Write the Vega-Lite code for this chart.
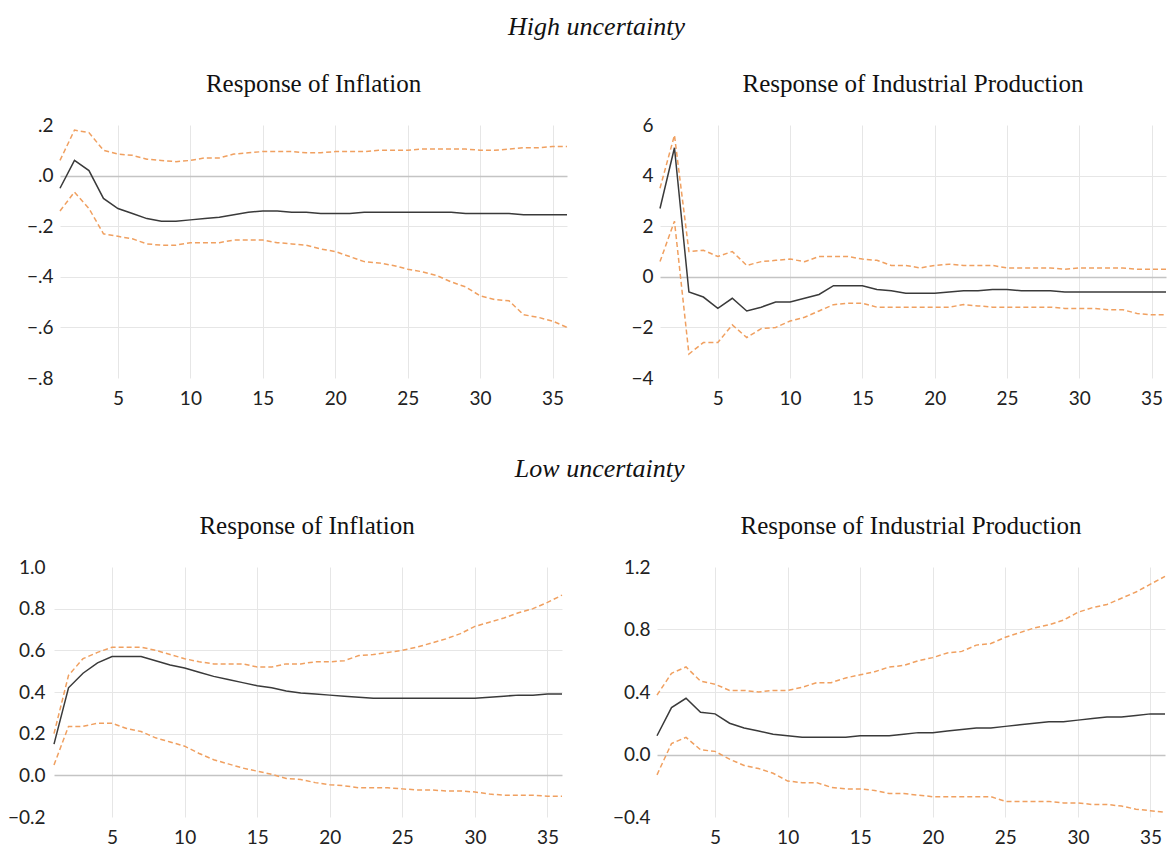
{
  "$schema": "https://vega.github.io/schema/vega-lite/v6.json",
  "background": "white",
  "padding": {"left": 0, "top": 14, "right": 2, "bottom": 4},
  "config": {
    "view": {"stroke": null},
    "axis": {"domain": false, "ticks": false, "labelFont": "Lato", "labelFontSize": 19, "labelColor": "#222", "gridColor": "#e6e6e6", "gridWidth": 1, "title": null, "labelPadding": 7},
    "axisX": {"labelPadding": 11},
    "title": {"font": "Liberation Serif", "fontSize": 25, "fontWeight": "normal", "color": "#111", "offset": 19},
    "concat": {"spacing": 60}
  },
  "datasets": {
    "hiInf": [
      {"t":1,"irf":-0.05,"lo":-0.14,"hi":0.06},{"t":2,"irf":0.06,"lo":-0.065,"hi":0.18},{"t":3,"irf":0.02,"lo":-0.13,"hi":0.17},{"t":4,"irf":-0.09,"lo":-0.23,"hi":0.10},{"t":5,"irf":-0.13,"lo":-0.24,"hi":0.085},{"t":6,"irf":-0.15,"lo":-0.25,"hi":0.08},{"t":7,"irf":-0.17,"lo":-0.27,"hi":0.065},{"t":8,"irf":-0.18,"lo":-0.275,"hi":0.06},{"t":9,"irf":-0.18,"lo":-0.275,"hi":0.055},{"t":10,"irf":-0.175,"lo":-0.265,"hi":0.06},{"t":11,"irf":-0.17,"lo":-0.265,"hi":0.07},{"t":12,"irf":-0.165,"lo":-0.265,"hi":0.07},{"t":13,"irf":-0.155,"lo":-0.255,"hi":0.085},{"t":14,"irf":-0.145,"lo":-0.255,"hi":0.09},{"t":15,"irf":-0.14,"lo":-0.255,"hi":0.095},{"t":16,"irf":-0.14,"lo":-0.265,"hi":0.095},{"t":17,"irf":-0.145,"lo":-0.27,"hi":0.095},{"t":18,"irf":-0.145,"lo":-0.275,"hi":0.09},{"t":19,"irf":-0.15,"lo":-0.29,"hi":0.09},{"t":20,"irf":-0.15,"lo":-0.30,"hi":0.095},{"t":21,"irf":-0.15,"lo":-0.32,"hi":0.095},{"t":22,"irf":-0.145,"lo":-0.34,"hi":0.095},{"t":23,"irf":-0.145,"lo":-0.345,"hi":0.10},{"t":24,"irf":-0.145,"lo":-0.355,"hi":0.10},{"t":25,"irf":-0.145,"lo":-0.37,"hi":0.10},{"t":26,"irf":-0.145,"lo":-0.38,"hi":0.105},{"t":27,"irf":-0.145,"lo":-0.395,"hi":0.105},{"t":28,"irf":-0.145,"lo":-0.42,"hi":0.105},{"t":29,"irf":-0.15,"lo":-0.44,"hi":0.105},{"t":30,"irf":-0.15,"lo":-0.475,"hi":0.10},{"t":31,"irf":-0.15,"lo":-0.49,"hi":0.10},{"t":32,"irf":-0.15,"lo":-0.495,"hi":0.105},{"t":33,"irf":-0.155,"lo":-0.55,"hi":0.11},{"t":34,"irf":-0.155,"lo":-0.56,"hi":0.11},{"t":35,"irf":-0.155,"lo":-0.575,"hi":0.115},{"t":36,"irf":-0.155,"lo":-0.60,"hi":0.115}
    ],
    "hiIP": [
      {"t":1,"irf":2.7,"lo":0.6,"hi":3.5},{"t":2,"irf":5.1,"lo":2.2,"hi":5.6},{"t":3,"irf":-0.6,"lo":-3.05,"hi":1.0},{"t":4,"irf":-0.8,"lo":-2.6,"hi":1.05},{"t":5,"irf":-1.25,"lo":-2.6,"hi":0.8},{"t":6,"irf":-0.85,"lo":-1.9,"hi":1.0},{"t":7,"irf":-1.35,"lo":-2.4,"hi":0.45},{"t":8,"irf":-1.2,"lo":-2.05,"hi":0.6},{"t":9,"irf":-1.0,"lo":-2.0,"hi":0.65},{"t":10,"irf":-1.0,"lo":-1.75,"hi":0.7},{"t":11,"irf":-0.85,"lo":-1.6,"hi":0.6},{"t":12,"irf":-0.7,"lo":-1.35,"hi":0.8},{"t":13,"irf":-0.35,"lo":-1.1,"hi":0.8},{"t":14,"irf":-0.35,"lo":-1.05,"hi":0.8},{"t":15,"irf":-0.35,"lo":-1.05,"hi":0.7},{"t":16,"irf":-0.5,"lo":-1.2,"hi":0.65},{"t":17,"irf":-0.55,"lo":-1.2,"hi":0.45},{"t":18,"irf":-0.65,"lo":-1.2,"hi":0.45},{"t":19,"irf":-0.65,"lo":-1.2,"hi":0.35},{"t":20,"irf":-0.65,"lo":-1.2,"hi":0.45},{"t":21,"irf":-0.6,"lo":-1.2,"hi":0.5},{"t":22,"irf":-0.55,"lo":-1.1,"hi":0.45},{"t":23,"irf":-0.55,"lo":-1.15,"hi":0.45},{"t":24,"irf":-0.5,"lo":-1.2,"hi":0.45},{"t":25,"irf":-0.5,"lo":-1.2,"hi":0.35},{"t":26,"irf":-0.55,"lo":-1.2,"hi":0.35},{"t":27,"irf":-0.55,"lo":-1.2,"hi":0.35},{"t":28,"irf":-0.55,"lo":-1.2,"hi":0.35},{"t":29,"irf":-0.6,"lo":-1.25,"hi":0.3},{"t":30,"irf":-0.6,"lo":-1.25,"hi":0.35},{"t":31,"irf":-0.6,"lo":-1.25,"hi":0.35},{"t":32,"irf":-0.6,"lo":-1.3,"hi":0.35},{"t":33,"irf":-0.6,"lo":-1.3,"hi":0.35},{"t":34,"irf":-0.6,"lo":-1.45,"hi":0.3},{"t":35,"irf":-0.6,"lo":-1.5,"hi":0.3},{"t":36,"irf":-0.6,"lo":-1.5,"hi":0.3}
    ],
    "loInf": [
      {"t":1,"irf":0.15,"lo":0.05,"hi":0.2},{"t":2,"irf":0.42,"lo":0.235,"hi":0.48},{"t":3,"irf":0.49,"lo":0.235,"hi":0.56},{"t":4,"irf":0.54,"lo":0.25,"hi":0.59},{"t":5,"irf":0.57,"lo":0.25,"hi":0.615},{"t":6,"irf":0.57,"lo":0.225,"hi":0.615},{"t":7,"irf":0.57,"lo":0.21,"hi":0.615},{"t":8,"irf":0.55,"lo":0.18,"hi":0.60},{"t":9,"irf":0.53,"lo":0.16,"hi":0.58},{"t":10,"irf":0.515,"lo":0.14,"hi":0.56},{"t":11,"irf":0.495,"lo":0.105,"hi":0.545},{"t":12,"irf":0.475,"lo":0.075,"hi":0.535},{"t":13,"irf":0.46,"lo":0.055,"hi":0.535},{"t":14,"irf":0.445,"lo":0.035,"hi":0.535},{"t":15,"irf":0.43,"lo":0.02,"hi":0.52},{"t":16,"irf":0.42,"lo":0.005,"hi":0.52},{"t":17,"irf":0.405,"lo":-0.015,"hi":0.535},{"t":18,"irf":0.395,"lo":-0.02,"hi":0.535},{"t":19,"irf":0.39,"lo":-0.035,"hi":0.545},{"t":20,"irf":0.385,"lo":-0.045,"hi":0.545},{"t":21,"irf":0.38,"lo":-0.05,"hi":0.55},{"t":22,"irf":0.375,"lo":-0.06,"hi":0.575},{"t":23,"irf":0.37,"lo":-0.06,"hi":0.58},{"t":24,"irf":0.37,"lo":-0.06,"hi":0.59},{"t":25,"irf":0.37,"lo":-0.065,"hi":0.60},{"t":26,"irf":0.37,"lo":-0.07,"hi":0.615},{"t":27,"irf":0.37,"lo":-0.07,"hi":0.635},{"t":28,"irf":0.37,"lo":-0.075,"hi":0.655},{"t":29,"irf":0.37,"lo":-0.075,"hi":0.68},{"t":30,"irf":0.37,"lo":-0.08,"hi":0.715},{"t":31,"irf":0.375,"lo":-0.09,"hi":0.735},{"t":32,"irf":0.38,"lo":-0.095,"hi":0.755},{"t":33,"irf":0.385,"lo":-0.095,"hi":0.78},{"t":34,"irf":0.385,"lo":-0.095,"hi":0.80},{"t":35,"irf":0.39,"lo":-0.1,"hi":0.83},{"t":36,"irf":0.39,"lo":-0.1,"hi":0.865}
    ],
    "loIP": [
      {"t":1,"irf":0.12,"lo":-0.13,"hi":0.38},{"t":2,"irf":0.30,"lo":0.07,"hi":0.52},{"t":3,"irf":0.36,"lo":0.11,"hi":0.56},{"t":4,"irf":0.27,"lo":0.03,"hi":0.47},{"t":5,"irf":0.26,"lo":0.02,"hi":0.45},{"t":6,"irf":0.20,"lo":-0.03,"hi":0.41},{"t":7,"irf":0.17,"lo":-0.07,"hi":0.41},{"t":8,"irf":0.15,"lo":-0.09,"hi":0.40},{"t":9,"irf":0.13,"lo":-0.12,"hi":0.41},{"t":10,"irf":0.12,"lo":-0.17,"hi":0.41},{"t":11,"irf":0.11,"lo":-0.18,"hi":0.43},{"t":12,"irf":0.11,"lo":-0.18,"hi":0.46},{"t":13,"irf":0.11,"lo":-0.21,"hi":0.46},{"t":14,"irf":0.11,"lo":-0.22,"hi":0.49},{"t":15,"irf":0.12,"lo":-0.22,"hi":0.51},{"t":16,"irf":0.12,"lo":-0.23,"hi":0.53},{"t":17,"irf":0.12,"lo":-0.25,"hi":0.56},{"t":18,"irf":0.13,"lo":-0.25,"hi":0.57},{"t":19,"irf":0.14,"lo":-0.26,"hi":0.60},{"t":20,"irf":0.14,"lo":-0.27,"hi":0.62},{"t":21,"irf":0.15,"lo":-0.27,"hi":0.65},{"t":22,"irf":0.16,"lo":-0.27,"hi":0.66},{"t":23,"irf":0.17,"lo":-0.27,"hi":0.70},{"t":24,"irf":0.17,"lo":-0.27,"hi":0.71},{"t":25,"irf":0.18,"lo":-0.30,"hi":0.75},{"t":26,"irf":0.19,"lo":-0.30,"hi":0.78},{"t":27,"irf":0.20,"lo":-0.30,"hi":0.81},{"t":28,"irf":0.21,"lo":-0.30,"hi":0.83},{"t":29,"irf":0.21,"lo":-0.31,"hi":0.86},{"t":30,"irf":0.22,"lo":-0.31,"hi":0.91},{"t":31,"irf":0.23,"lo":-0.32,"hi":0.94},{"t":32,"irf":0.24,"lo":-0.32,"hi":0.96},{"t":33,"irf":0.24,"lo":-0.33,"hi":1.00},{"t":34,"irf":0.25,"lo":-0.35,"hi":1.04},{"t":35,"irf":0.26,"lo":-0.36,"hi":1.09},{"t":36,"irf":0.26,"lo":-0.37,"hi":1.14}
    ]
  },
  "vconcat": [
    {
      "title": {"text": "High uncertainty", "font": "Liberation Serif", "fontStyle": "italic", "fontSize": 26, "fontWeight": "normal", "anchor": "middle", "offset": 32, "dx": 12},
      "spacing": 60,
      "hconcat": [
        {
          "width": 507, "height": 253,
          "title": "Response of Inflation",
          "data": {"name": "hiInf"},
          "layer": [
            {"mark": {"type": "line", "color": "#f0a060", "strokeDash": [5, 3], "strokeWidth": 1.5}, "transform": [{"fold": ["lo", "hi"]}],
             "encoding": {
               "x": {"field": "t", "type": "quantitative", "scale": {"domain": [1, 36], "nice": false, "zero": false}, "axis": {"values": [5,10,15,20,25,30,35], "grid": true}},
               "y": {"field": "value", "type": "quantitative", "scale": {"domain": [-0.8, 0.2], "nice": false}, "axis": {"values": [-0.8,-0.6,-0.4,-0.2,0,0.2], "minExtent": 60, "labelExpr": "replace(format(datum.value, '.1f'), '0.', '.')", "gridOpacity": {"condition": {"test": "datum.value < -0.79 || datum.value > 0.19", "value": 0}, "value": 1}, "gridColor": {"condition": {"test": "abs(datum.value) < 0.001", "value": "#c4c4c4"}, "value": "#e6e6e6"}, "gridWidth": {"condition": {"test": "abs(datum.value) < 0.001", "value": 1.5}, "value": 1}}},
               "detail": {"field": "key"}
             }},
            {"mark": {"type": "line", "color": "#3a3a3a", "strokeWidth": 1.5},
             "encoding": {
               "x": {"field": "t", "type": "quantitative"},
               "y": {"field": "irf", "type": "quantitative"}
             }}
          ]
        },
        {
          "width": 506, "height": 253,
          "title": "Response of Industrial Production",
          "data": {"name": "hiIP"},
          "layer": [
            {"mark": {"type": "line", "color": "#f0a060", "strokeDash": [5, 3], "strokeWidth": 1.5}, "transform": [{"fold": ["lo", "hi"]}],
             "encoding": {
               "x": {"field": "t", "type": "quantitative", "scale": {"domain": [1, 36], "nice": false, "zero": false}, "axis": {"values": [5,10,15,20,25,30,35], "grid": true}},
               "y": {"field": "value", "type": "quantitative", "scale": {"domain": [-4, 6], "nice": false}, "axis": {"values": [-4,-2,0,2,4,6], "minExtent": 28, "format": "d", "gridOpacity": {"condition": {"test": "datum.value < -3.9 || datum.value > 5.9", "value": 0}, "value": 1}, "gridColor": {"condition": {"test": "abs(datum.value) < 0.001", "value": "#c4c4c4"}, "value": "#e6e6e6"}, "gridWidth": {"condition": {"test": "abs(datum.value) < 0.001", "value": 1.5}, "value": 1}}},
               "detail": {"field": "key"}
             }},
            {"mark": {"type": "line", "color": "#3a3a3a", "strokeWidth": 1.5},
             "encoding": {
               "x": {"field": "t", "type": "quantitative"},
               "y": {"field": "irf", "type": "quantitative"}
             }}
          ]
        }
      ]
    },
    {
      "title": {"text": "Low uncertainty", "font": "Liberation Serif", "fontStyle": "italic", "fontSize": 26, "fontWeight": "normal", "anchor": "middle", "offset": 32, "dx": 12},
      "spacing": 44,
      "hconcat": [
        {
          "width": 502, "height": 250,
          "title": {"text": "Response of Inflation", "dx": -4},
          "data": {"name": "loInf"},
          "layer": [
            {"mark": {"type": "line", "color": "#f0a060", "strokeDash": [5, 3], "strokeWidth": 1.5, "clip": false}, "transform": [{"fold": ["lo", "hi"]}],
             "encoding": {
               "x": {"field": "t", "type": "quantitative", "scale": {"domain": [1, 36], "range": [-6, 502], "nice": false, "zero": false}, "axis": {"values": [5,10,15,20,25,30,35], "grid": true}},
               "y": {"field": "value", "type": "quantitative", "scale": {"domain": [-0.2, 1.0], "nice": false}, "axis": {"values": [-0.2,0,0.2,0.4,0.6,0.8,1.0], "minExtent": 30, "labelPadding": 15, "format": ".1f", "gridOpacity": {"condition": {"test": "datum.value < -0.19 || datum.value > 0.99", "value": 0}, "value": 1}, "gridColor": {"condition": {"test": "abs(datum.value) < 0.001", "value": "#c4c4c4"}, "value": "#e6e6e6"}, "gridWidth": {"condition": {"test": "abs(datum.value) < 0.001", "value": 1.5}, "value": 1}}},
               "detail": {"field": "key"}
             }},
            {"mark": {"type": "line", "color": "#3a3a3a", "strokeWidth": 1.5, "clip": false},
             "encoding": {
               "x": {"field": "t", "type": "quantitative"},
               "y": {"field": "irf", "type": "quantitative"}
             }}
          ]
        },
        {
          "width": 508, "height": 250,
          "title": "Response of Industrial Production",
          "data": {"name": "loIP"},
          "layer": [
            {"mark": {"type": "line", "color": "#f0a060", "strokeDash": [5, 3], "strokeWidth": 1.5}, "transform": [{"fold": ["lo", "hi"]}],
             "encoding": {
               "x": {"field": "t", "type": "quantitative", "scale": {"domain": [1, 36], "nice": false, "zero": false}, "axis": {"values": [5,10,15,20,25,30,35], "grid": true}},
               "y": {"field": "value", "type": "quantitative", "scale": {"domain": [-0.4, 1.2], "nice": false}, "axis": {"values": [-0.4,0,0.4,0.8,1.2], "minExtent": 40, "format": ".1f", "gridOpacity": {"condition": {"test": "datum.value < -0.39 || datum.value > 1.19", "value": 0}, "value": 1}, "gridColor": {"condition": {"test": "abs(datum.value) < 0.001", "value": "#c4c4c4"}, "value": "#e6e6e6"}, "gridWidth": {"condition": {"test": "abs(datum.value) < 0.001", "value": 1.5}, "value": 1}}},
               "detail": {"field": "key"}
             }},
            {"mark": {"type": "line", "color": "#3a3a3a", "strokeWidth": 1.5},
             "encoding": {
               "x": {"field": "t", "type": "quantitative"},
               "y": {"field": "irf", "type": "quantitative"}
             }}
          ]
        }
      ]
    }
  ],
  "spacing": 48
}
